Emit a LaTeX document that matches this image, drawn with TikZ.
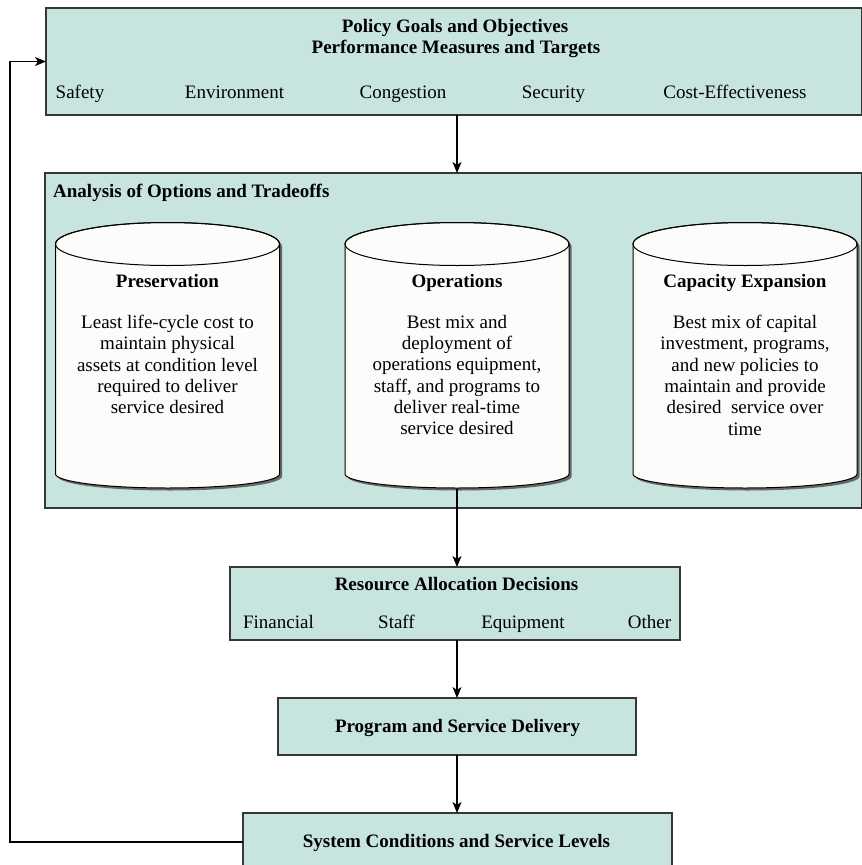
\documentclass[tikz,border=0pt]{standalone}
\usepackage{fontspec}
\setmainfont{Liberation Serif}
\usetikzlibrary{arrows.meta}

\definecolor{panel}{RGB}{199,228,222}
\definecolor{rim}{RGB}{55,55,55}
\definecolor{drumfill}{RGB}{252,252,251}

\begin{document}
\begin{tikzpicture}[x=1pt,y=-1pt,
  panelbox/.style={draw=rim,line width=1.5pt,fill=panel,inner sep=0pt,outer sep=0pt,anchor=north west},
  plain/.style={font=\fontsize{19}{21.3}\selectfont,inner sep=0pt,anchor=base},
  heading/.style={font=\fontsize{19}{21.3}\selectfont\bfseries,inner sep=0pt,anchor=base},
  bodytext/.style={font=\fontsize{19}{21.3}\selectfont,inner sep=0pt,align=center,anchor=north},
  flow/.style={draw=black,line width=1.2pt,-{Stealth[length=11pt,width=9pt,inset=3pt]}},
  drum/.pic={
    % drop shadow, then the drum body, then the rim of its top
    \fill[black!60,shift={(2.5,2.5)}] (-112,244) -- (-112,474)
      arc[start angle=180,end angle=360,x radius=112pt,y radius=14pt]
      -- (112,244) arc[start angle=0,end angle=180,x radius=112pt,y radius=21.5pt] -- cycle;
    \filldraw[fill=drumfill,draw=black,line width=1pt] (-112,244) -- (-112,474)
      arc[start angle=180,end angle=360,x radius=112pt,y radius=14pt]
      -- (112,244) arc[start angle=0,end angle=180,x radius=112pt,y radius=21.5pt] -- cycle;
    \draw[black,line width=1pt] (0,244) ellipse[x radius=112pt,y radius=21.5pt];
  }]

\useasboundingbox (0,0) rectangle (862,865);
\fill[white] (0,0) rectangle (862,865);

% main boxes
\node[panelbox,minimum width=816pt,minimum height=107pt] (goals) at (46,8) {};
\node[panelbox,minimum width=817pt,minimum height=335pt] (options) at (45,173) {};
\node[panelbox,minimum width=450pt,minimum height=73pt] (alloc) at (230,567) {};
\node[panelbox,minimum width=358pt,minimum height=57pt] (delivery) at (278,698) {};
\node[panelbox,minimum width=429pt,minimum height=58pt] (conditions) at (243,813) {};

% goals box text
\node[heading] (goalsA) at (455,32.5) {Policy Goals and Objectives};
\node[heading] (goalsB) at (456,53.5) {Performance Measures and Targets};
\node[plain] (safety) at (80,98.5) {Safety};
\node[plain] (environment) at (234.5,98.5) {Environment};
\node[plain] (congestion) at (403,98.5) {Congestion};
\node[plain] (security) at (553.5,98.5) {Security};
\node[plain] (costeff) at (735,98.5) {Cost-Effectiveness};

% options box
\node[heading,anchor=base west] (optionsT) at (53,197.5) {Analysis of Options and Tradeoffs};

\pic at (167.5,0) {drum};
\pic at (457,0) {drum};
\pic at (745,0) {drum};

\node[heading] (presT) at (167.5,287.5) {Preservation};
\node[bodytext] (presB) at (167.5,315) {Least life-cycle cost to\\maintain physical\\assets at condition level\\required to deliver\\service desired};
\node[heading] (opsT) at (457,287.5) {Operations};
\node[bodytext] (opsB) at (457,315) {Best mix and\\deployment of\\operations equipment,\\staff, and programs to\\deliver real-time\\service desired};
\node[heading] (capT) at (745,287.5) {Capacity Expansion};
\node[bodytext] (capB) at (745,315) {Best mix of capital\\investment, programs,\\and new policies to\\maintain and provide\\desired\ \ service over\\time};

% allocation box
\node[heading] (allocT) at (456.5,590.5) {Resource Allocation Decisions};
\node[plain] (financial) at (278.5,628.5) {Financial};
\node[plain] (staff) at (396.5,628.5) {Staff};
\node[plain] (equipment) at (523,628.5) {Equipment};
\node[plain] (other) at (649.5,628.5) {Other};

\node[heading] (deliveryT) at (457.5,732.5) {Program and Service Delivery};
\node[heading] (conditionsT) at (456.5,847.5) {System Conditions and Service Levels};

% connectors
\coordinate (spine) at (457,0);
\coordinate (opsfoot) at (457,489);
\coordinate (loop) at (10,450);
\draw[flow] (goals.south -| spine) -- (options.north -| spine);
\draw[flow] (opsfoot) -- (alloc.north -| spine);
\draw[flow] (alloc.south -| spine) -- (delivery.north -| spine);
\draw[flow] (delivery.south -| spine) -- (conditions.north -| spine);
\draw[flow] (conditions.west) -| (loop) |- (goals.west);
\end{tikzpicture}
\end{document}
